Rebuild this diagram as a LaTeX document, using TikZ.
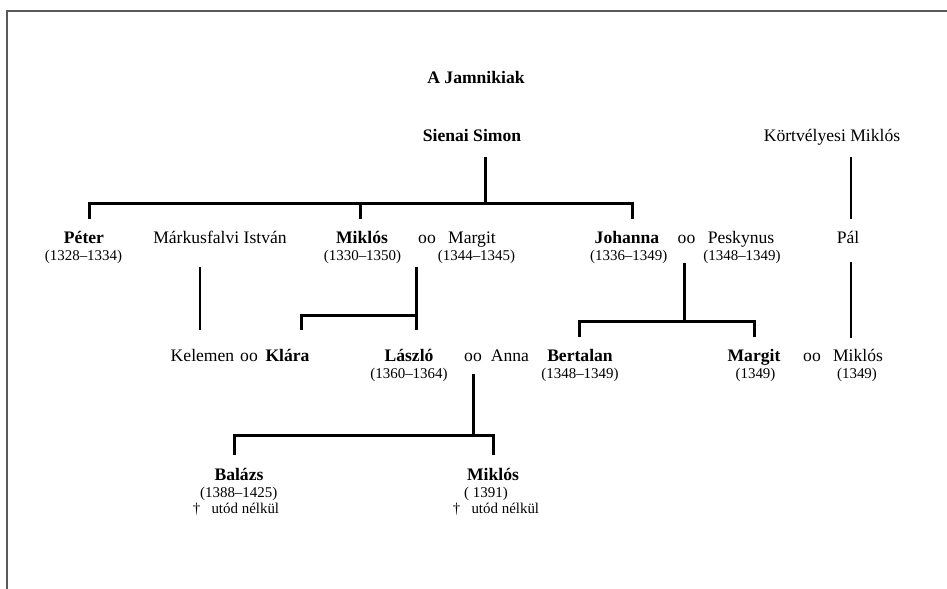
\documentclass[tikz,border=0pt]{standalone}
\usepackage{fontspec}
\setmainfont{Liberation Serif}
\begin{document}
\begin{tikzpicture}[x=0.75pt,y=-0.75pt,
  every node/.style={inner sep=0pt,outer sep=0pt,anchor=base},
  nm/.style={font=\fontsize{13.2}{15}\selectfont},
  bnm/.style={font=\fontsize{13.2}{15}\selectfont\bfseries},
  dt/.style={font=\fontsize{11.2}{13}\selectfont},
  thickln/.style={line width=2.25pt,line join=miter,line cap=butt},
  thinln/.style={line width=1.5pt,line cap=butt},
  framecol/.style={draw={rgb,255:red,90;green,90;blue,90},line width=1.3pt}]
\useasboundingbox (0,0) rectangle (947,589);
% frame
\coordinate (fbl) at (6.7,589);
\coordinate (ftl) at (6.7,10.7);
\coordinate (ftr) at (947,10.7);
\draw[framecol] (fbl) -- (ftl) -- (ftr);
% title and top
\node[bnm] (title) at (476,83) {A Jamnikiak};
\node[bnm] (simon) at (472,141) {Sienai Simon};
\node[nm] (kortv) at (832,141) {Körtvélyesi Miklós};
% row 1
\node[bnm] (peter) at (84,243) {Péter};
\node[dt] (peterd) at (83.5,260) {(1328–1334)};
\node[nm] (markus) at (220,243) {Márkusfalvi István};
\node[bnm] (miklosa) at (362,243) {Miklós};
\node[dt] (miklosad) at (362.5,260) {(1330–1350)};
\node[nm] (ooa) at (427,243) {oo};
\node[nm] (margita) at (472,243) {Margit};
\node[dt] (margitad) at (476.5,260) {(1344–1345)};
\node[bnm] (johanna) at (627,243) {Johanna};
\node[dt] (johannad) at (628.7,260) {(1336–1349)};
\node[nm] (oob) at (686.5,243) {oo};
\node[nm] (peskynus) at (741,243) {Peskynus};
\node[dt] (peskynusd) at (742,260) {(1348–1349)};
\node[nm] (pal) at (848,243) {Pál};
% row 2
\node[nm] (kelemen) at (202.5,361.7) {Kelemen};
\node[nm] (ooc) at (249,361.7) {oo};
\node[bnm] (klara) at (287.5,361.7) {Klára};
\node[bnm] (laszlo) at (409,361.7) {László};
\node[dt] (laszlod) at (409,378.7) {(1360–1364)};
\node[nm] (ood) at (473,361.7) {oo};
\node[nm] (anna) at (510,361.7) {Anna};
\node[bnm] (bertalan) at (580,361.7) {Bertalan};
\node[dt] (bertaland) at (580,378.7) {(1348–1349)};
\node[bnm] (margitb) at (754,361.7) {Margit};
\node[dt] (margitbd) at (755.5,378.7) {(1349)};
\node[nm] (ooe) at (812,361.7) {oo};
\node[nm] (miklosb) at (858,361.7) {Miklós};
\node[dt] (miklosbd) at (857,378.7) {(1349)};
% row 3
\node[bnm] (balazs) at (239,480) {Balázs};
\node[dt] (balazsd) at (238.7,497) {(1388–1425)};
\node[dt] (balazsn) at (236,513) {†\hspace{0.75em}utód nélkül};
\node[bnm] (miklosc) at (493,480) {Miklós};
\node[dt] (miklposcd) at (486,497) {( 1391)};
\node[dt] (miklosn) at (496,513) {†\hspace{0.75em}utód nélkül};
% connector points
\coordinate (sA) at (485,157);
\coordinate (sB) at (485,203);
\coordinate (bL) at (89,203);
\coordinate (bM) at (360,203);
\coordinate (bR) at (632,203);
\coordinate (pD) at (89,219);
\coordinate (mD) at (360,219);
\coordinate (jD) at (632,219);
\coordinate (kA) at (850.5,157);
\coordinate (kB) at (850.5,219);
\coordinate (pA) at (850.5,262);
\coordinate (pB) at (850.5,338);
\coordinate (maA) at (200,267);
\coordinate (maB) at (200,330);
\coordinate (mmA) at (416.7,267);
\coordinate (mmB) at (416.7,330);
\coordinate (mmH) at (416.7,315);
\coordinate (klH) at (301.7,315);
\coordinate (klD) at (301.7,330);
\coordinate (jpA) at (684.3,263);
\coordinate (jpB) at (684.3,321.7);
\coordinate (beH) at (579,321.7);
\coordinate (beD) at (579,337);
\coordinate (mgH) at (754.3,321.7);
\coordinate (mgD) at (754.3,337);
\coordinate (laA) at (473.3,374);
\coordinate (laB) at (473.3,435);
\coordinate (baH) at (234,435);
\coordinate (baD) at (234,455);
\coordinate (miH) at (493.3,435);
\coordinate (miD) at (493.3,455);
% connectors
\draw[thickln] (sA) -- (sB);
\draw[thickln] (pD) -- (bL) -- (bR) -- (jD);
\draw[thickln] (bM) -- (mD);
\draw[thinln] (kA) -- (kB);
\draw[thinln] (pA) -- (pB);
\draw[thinln] (maA) -- (maB);
\draw[thickln] (mmA) -- (mmB);
\draw[thickln] (klD) -- (klH) -- (mmH);
\draw[thickln] (jpA) -- (jpB);
\draw[thickln] (beD) -- (beH) -- (mgH) -- (mgD);
\draw[thickln] (laA) -- (laB);
\draw[thickln] (baD) -- (baH) -- (miH) -- (miD);
\end{tikzpicture}
\end{document}
